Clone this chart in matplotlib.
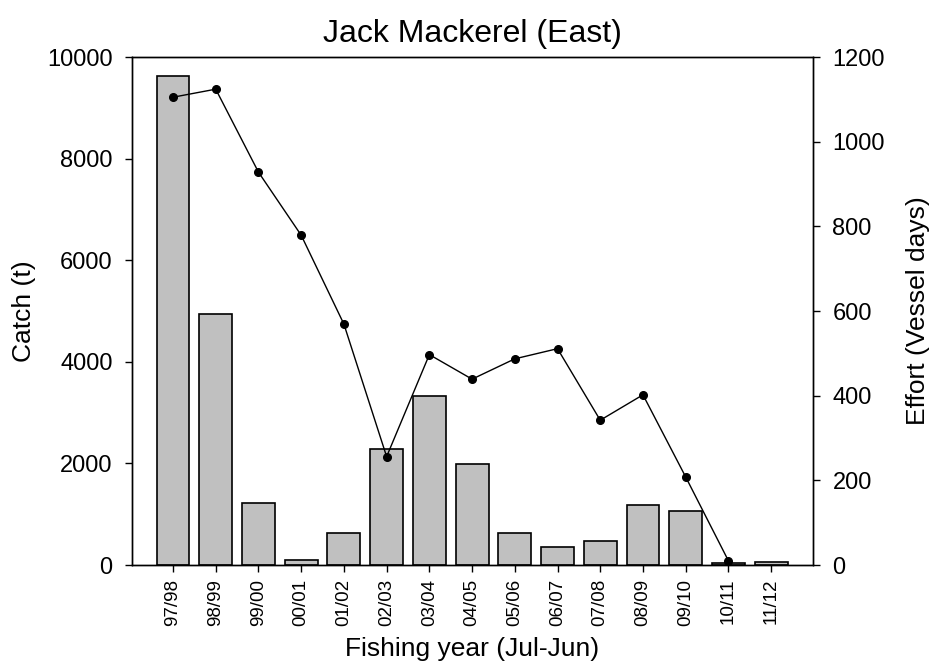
import matplotlib
matplotlib.use('Agg')
import matplotlib.pyplot as plt
import numpy as np

plt.rcParams['font.family'] = ['Liberation Sans', 'DejaVu Sans']

# Fishing years and values
years = ['97/98', '98/99', '99/00', '00/01', '01/02', '02/03', '03/04', '04/05',
         '05/06', '06/07', '07/08', '08/09', '09/10', '10/11', '11/12']
catch_t = [9620, 4940, 1215, 100, 625, 2280, 3330, 1985,
           635, 345, 470, 1190, 1070, 30, 55]
effort_days = [1105, 1124, 928, 779, 569, 256, 497, 439,
               487, 511, 342, 402, 208, 10]

x = np.arange(len(years))

fig = plt.figure(figsize=(9.38, 6.72), dpi=100)
ax1 = fig.add_axes([132 / 938, 1 - 565 / 672, (813 - 132) / 938, (565 - 57) / 672])

ax1.bar(x, catch_t, width=0.77, color='#c0c0c0', edgecolor='black', linewidth=1.2, zorder=2)
ax1.set_xlim(-0.96, 14.98)
ax1.set_ylim(0, 10000)
ax1.set_yticks(np.arange(0, 10001, 2000))
ax1.set_xticks(x)
ax1.set_xticklabels(years, rotation=90, fontsize=13.5)
ax1.tick_params(axis='y', labelsize=17, direction='out', length=5, width=1, pad=9)
ax1.tick_params(axis='x', direction='out', length=5, width=1, pad=5)
ax1.set_ylabel('Catch (t)', fontsize=19, labelpad=8)
ax1.set_xlabel('Fishing year (Jul-Jun)', fontsize=19, labelpad=8)

ax2 = ax1.twinx()
ax2.plot(x[:len(effort_days)], effort_days, color='black', linewidth=1, marker='o',
         markersize=5.5, zorder=3)
ax2.set_ylim(0, 1200)
ax2.set_yticks(np.arange(0, 1201, 200))
ax2.tick_params(axis='y', labelsize=17, direction='out', length=5, width=1, pad=9)
ax2.set_ylabel('Effort (Vessel days)', fontsize=19, labelpad=15)

for ax in (ax1, ax2):
    for s in ax.spines.values():
        s.set_linewidth(1)

ax1.set_title('Jack Mackerel (East)', fontsize=23, pad=11)

fig.savefig('out.png', dpi=100)
